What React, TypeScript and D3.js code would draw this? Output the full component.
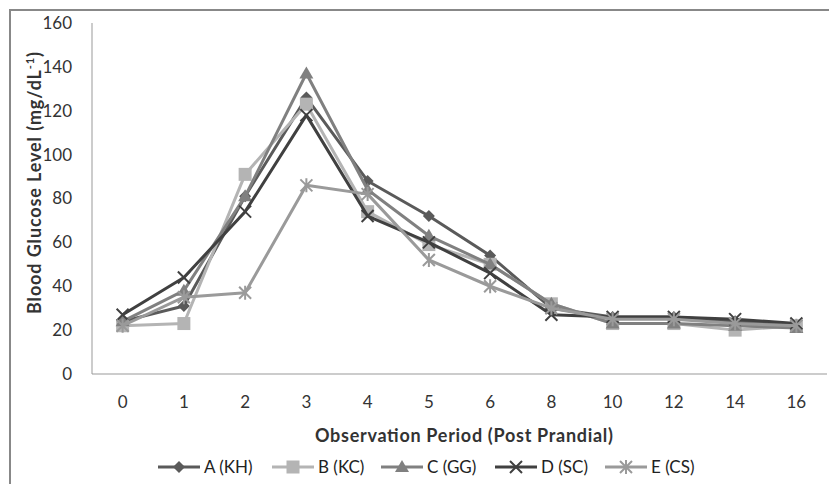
import React, { useEffect, useRef } from "react";
import * as d3 from "d3";

const categories = ["0", "1", "2", "3", "4", "5", "6", "8", "10", "12", "14", "16"];
const seriesNames = ["A (KH)", "B (KC)", "C (GG)", "D (SC)", "E (CS)"];
const seriesA = [24, 31, 81, 126, 88, 72, 54, 30, 26, 26, 24, 22];
const seriesB = [22, 23, 91, 123, 74, 59, 50, 32, 23, 23, 20, 22];
const seriesC = [24, 38, 81, 137, 84, 63, 50, 32, 23, 23, 22, 21];
const seriesD = [27, 44, 74, 118, 72, 60, 46, 27, 26, 26, 25, 23];
const seriesE = [22, 35, 37, 86, 82, 52, 40, 30, 25, 25, 23, 22];
const yTicks = [0, 20, 40, 60, 80, 100, 120, 140, 160];

const colors = ["#5a5a5a", "#b4b4b4", "#808080", "#404040", "#9a9a9a"];
const markers = ["diamond", "square", "triangle", "x", "star"];

export default function App() {
  const ref = useRef<SVGSVGElement>(null);
  useEffect(() => {
    const svg = d3.select(ref.current);
    svg.selectAll("*").remove();
    const W = 829, H = 484;
    const left = 92, right = 827, top = 23, bottom = 374;
    const x = d3.scaleBand().domain(categories).range([left, right]);
    const y = d3.scaleLinear().domain([0, 160]).range([bottom, top]);
    const font = "Lato, 'Open Sans', sans-serif";

    svg.append("rect").attr("x", 10).attr("y", 10).attr("width", W).attr("height", H)
      .attr("fill", "#fff").attr("stroke", "#888").attr("stroke-width", 2);

    svg.append("line").attr("x1", left).attr("x2", left).attr("y1", top).attr("y2", bottom)
      .attr("stroke", "#999").attr("stroke-width", 1);
    svg.append("line").attr("x1", left).attr("x2", right).attr("y1", bottom).attr("y2", bottom)
      .attr("stroke", "#999").attr("stroke-width", 1);

    svg.append("g").selectAll("text").data(yTicks).join("text")
      .attr("x", left - 20).attr("y", (d) => y(d)).attr("dy", "0.35em")
      .attr("text-anchor", "end").attr("font-family", font).attr("font-size", 17)
      .attr("fill", "#333").text((d) => d);

    svg.append("g").selectAll("text").data(categories).join("text")
      .attr("x", (d) => x(d)! + x.bandwidth() / 2).attr("y", bottom + 34)
      .attr("text-anchor", "middle").attr("font-family", font).attr("font-size", 17)
      .attr("fill", "#333").text((d) => d);

    svg.append("text").attr("transform", `translate(41,183) rotate(-90)`)
      .attr("text-anchor", "middle").attr("font-family", font).attr("font-weight", "bold")
      .attr("font-size", 18).attr("fill", "#333")
      .attr("textLength", 262).attr("lengthAdjust", "spacing")
      .call((t) => {
        t.append("tspan").text("Blood Glucose Level (mg/dL");
        t.append("tspan").attr("font-size", 11).attr("dy", -7).text("-1");
        t.append("tspan").attr("dy", 7).text(")");
      });

    svg.append("text").attr("x", 464).attr("y", 442).attr("text-anchor", "middle")
      .attr("font-family", font).attr("font-weight", "bold").attr("font-size", 18)
      .attr("textLength", 298).attr("lengthAdjust", "spacing")
      .attr("fill", "#333").text("Observation Period (Post Prandial)");

    const drawMarker = (g: any, type: string, cx: number, cy: number, color: string) => {
      if (type === "diamond") {
        g.append("path").attr("d", `M${cx},${cy - 6}L${cx + 6},${cy}L${cx},${cy + 6}L${cx - 6},${cy}Z`).attr("fill", color);
      } else if (type === "square") {
        g.append("rect").attr("x", cx - 6.5).attr("y", cy - 6.5).attr("width", 13).attr("height", 13).attr("fill", color);
      } else if (type === "triangle") {
        g.append("path").attr("d", `M${cx},${cy - 7}L${cx + 7},${cy + 5}L${cx - 7},${cy + 5}Z`).attr("fill", color);
      } else if (type === "x") {
        g.append("path").attr("d", `M${cx - 6},${cy - 6}L${cx + 6},${cy + 6}M${cx - 6},${cy + 6}L${cx + 6},${cy - 6}`)
          .attr("stroke", color).attr("stroke-width", 2);
      } else if (type === "star") {
        g.append("path").attr("d", `M${cx - 6},${cy - 6}L${cx + 6},${cy + 6}M${cx - 6},${cy + 6}L${cx + 6},${cy - 6}M${cx},${cy - 7}L${cx},${cy + 7}`)
          .attr("stroke", color).attr("stroke-width", 2);
      }
    };

    const allSeries = [seriesA, seriesB, seriesC, seriesD, seriesE];
    const line = d3.line<number>().x((_, i) => x(categories[i])! + x.bandwidth() / 2).y((d) => y(d));
    allSeries.forEach((s, si) => {
      const g = svg.append("g");
      g.append("path").attr("d", line(s)!).attr("fill", "none").attr("stroke", colors[si])
        .attr("stroke-width", 3).attr("stroke-linejoin", "round");
      s.forEach((v, i) => drawMarker(g, markers[si], x(categories[i])! + x.bandwidth() / 2, y(v), colors[si]));
    });

    const legendX = [158, 272, 381, 495, 605];
    const ly = 467;
    seriesNames.forEach((n, si) => {
      const g = svg.append("g");
      g.append("line").attr("x1", legendX[si]).attr("x2", legendX[si] + 42).attr("y1", ly).attr("y2", ly)
        .attr("stroke", colors[si]).attr("stroke-width", 3);
      drawMarker(g, markers[si], legendX[si] + 21, ly, colors[si]);
      g.append("text").attr("x", legendX[si] + 46).attr("y", ly).attr("dy", "0.35em")
        .attr("font-family", font).attr("font-size", 17).attr("fill", "#222").text(n);
    });
  }, []);
  return <svg ref={ref} width={829} height={484} style={{ position: "absolute", left: 0, top: 0 }} />;
}
